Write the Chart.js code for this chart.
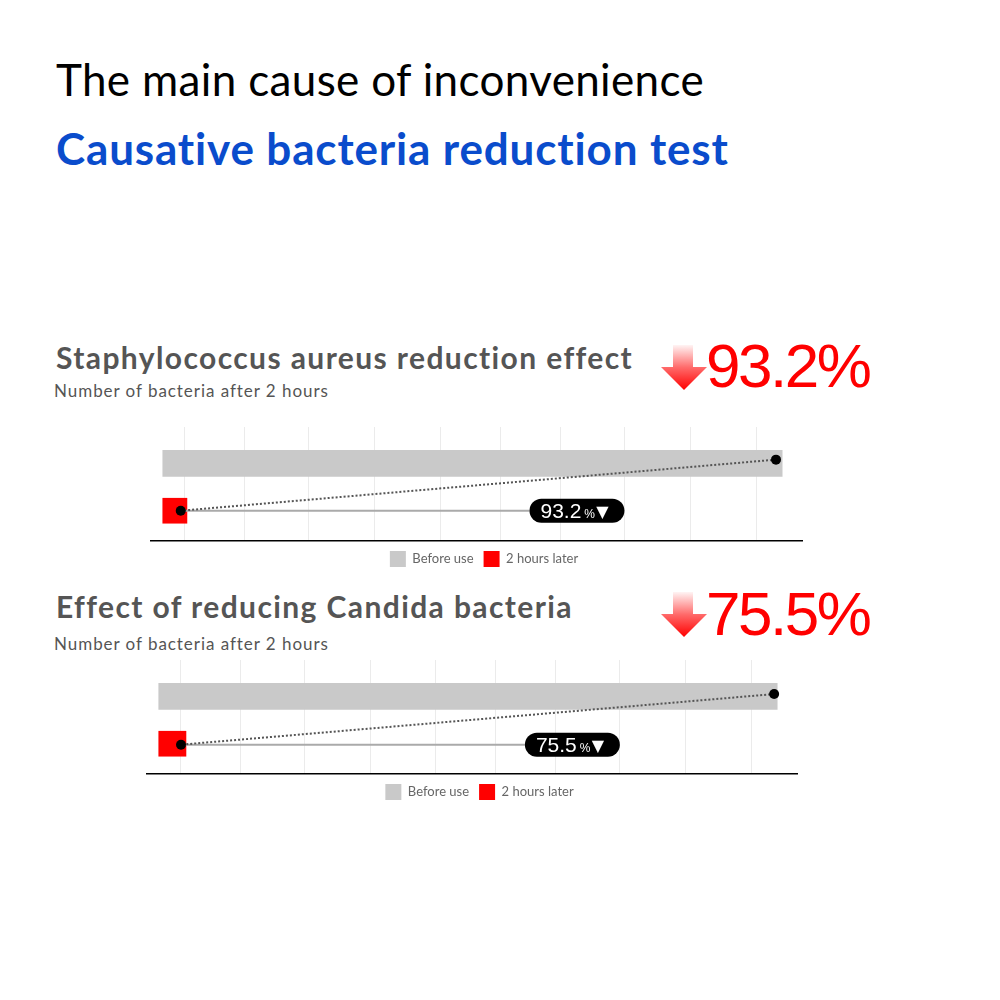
<!DOCTYPE html>
<html>
<head>
<meta charset="utf-8">
<script src="https://cdn.jsdelivr.net/npm/chart.js@4.4.1/dist/chart.umd.min.js"></script>
<style>
  html, body { margin: 0; padding: 0; background: #fff; }
  body { width: 1000px; height: 1000px; position: relative; overflow: hidden; font-family: Lato, "Noto Sans", sans-serif; }
  .txt { position: absolute; white-space: nowrap; line-height: 1; }
  #title { left: 56px; top: 57px; font-size: 44px; color: #000; letter-spacing: 0.35px; }
  #subtitle { left: 56px; top: 126px; font-size: 44px; color: #0a4ccc; font-weight: 700; letter-spacing: 0.85px; }
  .head { left: 56px; font-size: 30px; color: #555; font-weight: 700; letter-spacing: 1.4px; }
  .sub { left: 54px; font-size: 17px; color: #555; letter-spacing: 0.95px; }
  .big { left: 706px; font-family: "Liberation Sans", Arial, sans-serif; font-size: 62px; color: #ff0000; letter-spacing: -2.5px; }
  .arrow { position: absolute; left: 661px; width: 46px; height: 45px; }
  .box { position: absolute; }
</style>
</head>
<body>
  <div id="title" class="txt">The main cause of inconvenience</div>
  <div id="subtitle" class="txt">Causative bacteria reduction test</div>

  <div id="head1" class="txt head" style="top:342px">Staphylococcus aureus reduction effect</div>
  <div id="sub1" class="txt sub" style="top:382px">Number of bacteria after 2 hours</div>
  <svg class="arrow" style="top:345px" viewBox="0 0 46 45">
    <defs>
      <linearGradient id="g1" x1="0" y1="0" x2="0" y2="1">
        <stop offset="0" stop-color="#fff4f4"/>
        <stop offset="0.5" stop-color="#ff6a6a"/>
        <stop offset="1" stop-color="#ff0000"/>
      </linearGradient>
    </defs>
    <path d="M12 0 H32 V22 H46 L23 45 L0 22 H12 Z" fill="url(#g1)"/>
  </svg>
  <div id="big1" class="txt big" style="top:335px"></div>
  <div class="box" style="left:146px; top:422px; width:676px; height:155px"><canvas id="chart1"></canvas></div>

  <div id="head2" class="txt head" style="top:591px">Effect of reducing Candida bacteria</div>
  <div id="sub2" class="txt sub" style="top:635px">Number of bacteria after 2 hours</div>
  <svg class="arrow" style="top:592px" viewBox="0 0 46 45">
    <defs>
      <linearGradient id="g2" x1="0" y1="0" x2="0" y2="1">
        <stop offset="0" stop-color="#fff4f4"/>
        <stop offset="0.5" stop-color="#ff6a6a"/>
        <stop offset="1" stop-color="#ff0000"/>
      </linearGradient>
    </defs>
    <path d="M12 0 H32 V22 H46 L23 45 L0 22 H12 Z" fill="url(#g2)"/>
  </svg>
  <div id="big2" class="txt big" style="top:583px"></div>
  <div class="box" style="left:142px; top:655px; width:675px; height:155px"><canvas id="chart2"></canvas></div>

<script>
// ---- data ----
const categories = ['Before use', '2 hours later'];
const barColors = ['#c9c9c9', '#ff0000'];

// bar lengths (before use = 100)
const staphBars = [100, 3.9];
const candidaBars = [100, 4.4];

// dotted trend line end points [before, after]
const staphDotsX = [99.0, 2.9];
const staphDotsY = [-0.08, 1];
const candidaDotsX = [99.5, 3.6];
const candidaDotsY = [-0.05, 1.02];

// where the solid guide line meets the badge
const badgeStart = [59.2, 59.2];

// reduction percentages
const reductions = [93.2, 75.5];

// vertical grid line positions (in bar units)
const gridTicks = [3.5, 13.2, 23.5, 34.2, 44.8, 54.5, 64.2, 74.5, 85.2, 95.8];

document.getElementById('big1').textContent = reductions[0] + '%';
document.getElementById('big2').textContent = reductions[1] + '%';

// draws the black "93.2 %▼" badge at the end of the guide line
const badgePlugin = {
    id: 'badge',
    afterDatasetsDraw(chart, args, opts) {
        const meta = chart.getDatasetMeta(1);
        const pt = meta.data[1];
        if (!pt) return;
        const ctx = chart.ctx;
        const x = pt.x, y = pt.y;
        const w = 95, h = 24, r = h / 2;
        ctx.save();
        ctx.fillStyle = '#000';
        ctx.beginPath();
        ctx.moveTo(x + r, y - r);
        ctx.lineTo(x + w - r, y - r);
        ctx.arc(x + w - r, y, r, -Math.PI / 2, Math.PI / 2);
        ctx.lineTo(x + r, y + r);
        ctx.arc(x + r, y, r, Math.PI / 2, Math.PI * 1.5);
        ctx.closePath();
        ctx.fill();

        ctx.fillStyle = '#fff';
        ctx.textBaseline = 'alphabetic';
        ctx.font = '21px "Liberation Sans", Arial, sans-serif';
        const num = String(opts.value);
        ctx.fillText(num, x + 11, y + 7.5);
        const nw = ctx.measureText(num).width;
        ctx.font = '12px "Liberation Sans", Arial, sans-serif';
        ctx.fillText('%', x + 14 + nw, y + 7.5);
        ctx.font = '16px "DejaVu Sans", sans-serif';
        ctx.fillText('\u25BC', x + 14 + nw + 12, y + 6.5);
        ctx.restore();
    }
};

function makeChart(id, bars, dotsX, dotsY, startX, reduction) {
    const ctx = document.getElementById(id).getContext('2d');
    return new Chart(ctx, {
        type: 'bar',
        data: {
            datasets: [
                {
                    // dotted trend line
                    type: 'line',
                    label: 'trend',
                    data: [{ x: dotsX[0], y: dotsY[0] }, { x: dotsX[1], y: dotsY[1] }],
                    borderColor: '#555',
                    borderWidth: 2,
                    borderDash: [2, 2],
                    pointRadius: 5,
                    pointBackgroundColor: '#000',
                    pointBorderColor: '#000',
                    pointBorderWidth: 0,
                    fill: false,
                    order: 0
                },
                {
                    // solid guide line to the badge
                    type: 'line',
                    label: 'guide',
                    data: [{ x: dotsX[1], y: dotsY[1] }, { x: startX, y: dotsY[1] }],
                    borderColor: '#aaa',
                    borderWidth: 2,
                    pointRadius: 0,
                    fill: false,
                    order: 1
                },
                {
                    label: categories[0],
                    data: [{ x: bars[0], y: 0 }],
                    backgroundColor: barColors[0],
                    barThickness: 26,
                    order: 2
                },
                {
                    label: categories[1],
                    data: [{ x: bars[1], y: 1 }],
                    backgroundColor: barColors[1],
                    barThickness: 25,
                    order: 2
                }
            ]
        },
        options: {
            indexAxis: 'y',
            responsive: true,
            maintainAspectRatio: false,
            animation: false,
            layout: { padding: { top: 2, left: 0, right: 0, bottom: 0 } },
            datasets: { bar: { grouped: false } },
            scales: {
                x: {
                    type: 'linear',
                    min: -1.9,
                    max: 103.2,
                    afterBuildTicks: (scale) => {
                        scale.ticks = gridTicks.map(v => ({ value: v }));
                    },
                    ticks: { display: false },
                    grid: { color: '#ebebeb', lineWidth: 1, drawTicks: false },
                    border: { display: true, color: '#000', width: 1.5 }
                },
                y: {
                    type: 'linear',
                    position: 'right',
                    reverse: true,
                    offset: false,
                    min: -0.77,
                    max: 1.64,
                    ticks: { display: false },
                    grid: { display: false, offset: false },
                    border: { display: false },
                    afterFit: (scale) => { scale.width = 20; }
                }
            },
            plugins: {
                legend: {
                    position: 'bottom',
                    labels: {
                        filter: (item) => item.datasetIndex >= 2,
                        boxWidth: 16,
                        boxHeight: 16,
                        padding: 10,
                        color: '#666',
                        font: { family: 'Lato', size: 13 }
                    }
                },
                tooltip: { enabled: false },
                badge: { value: reduction }
            }
        },
        plugins: [badgePlugin]
    });
}

makeChart('chart1', staphBars, staphDotsX, staphDotsY, badgeStart[0], reductions[0]);
makeChart('chart2', candidaBars, candidaDotsX, candidaDotsY, badgeStart[1], reductions[1]);
</script>
</body>
</html>
